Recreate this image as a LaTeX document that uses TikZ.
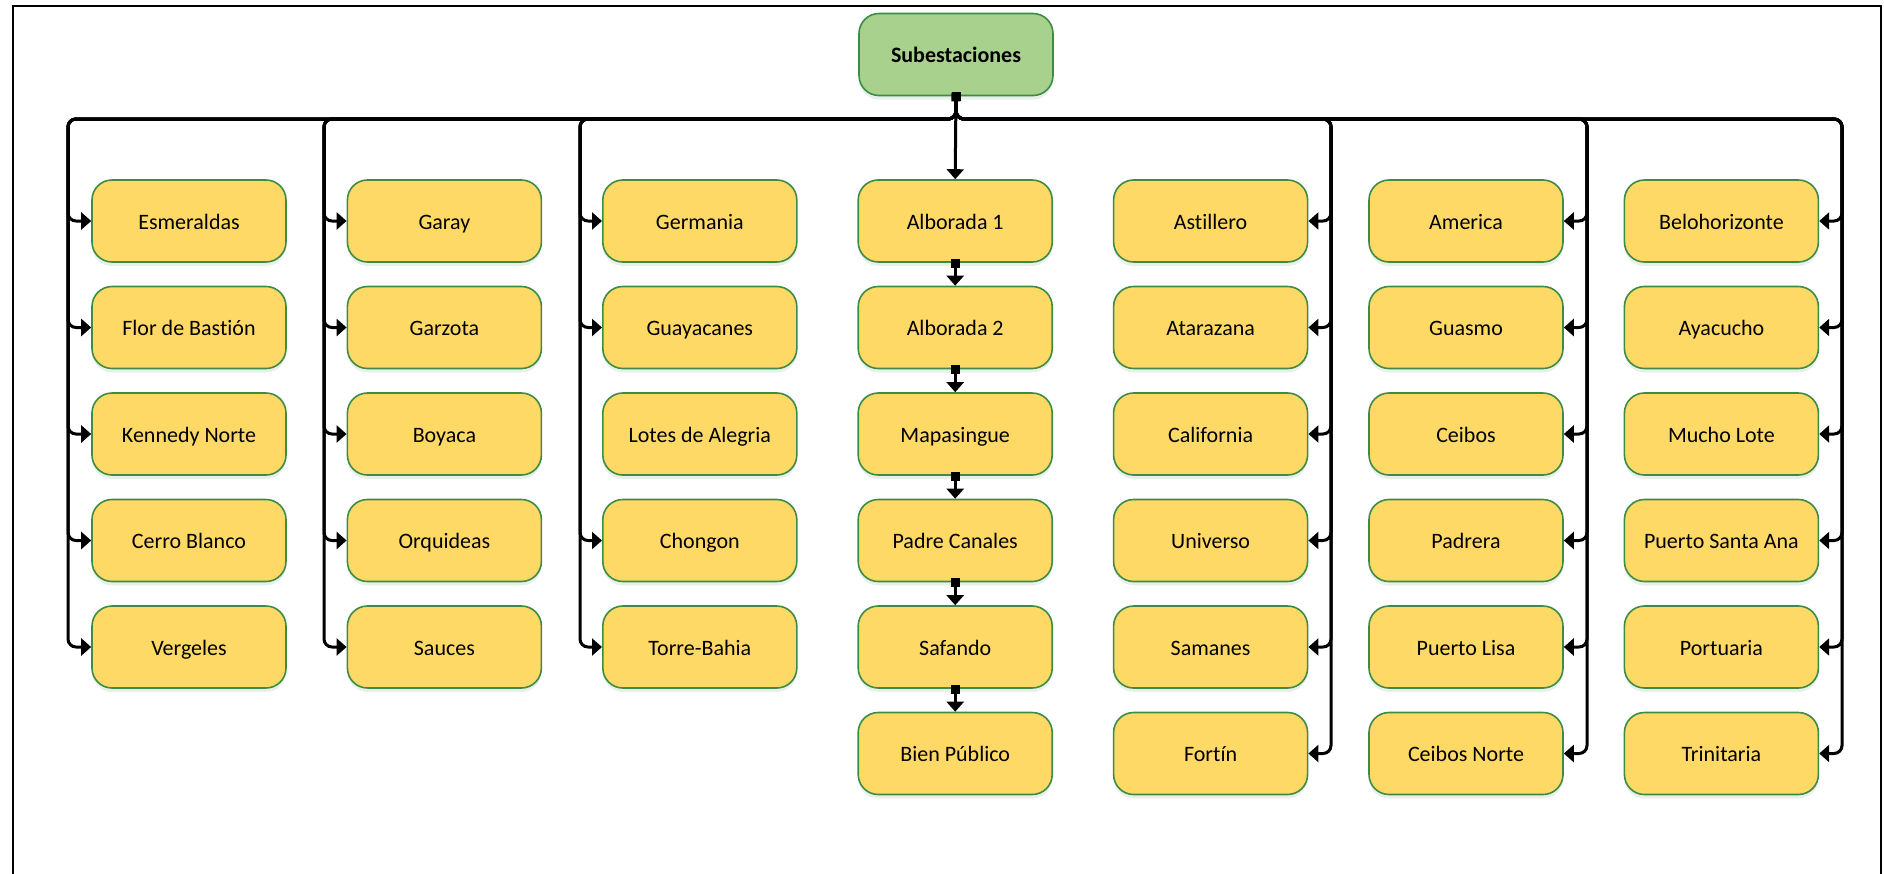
\documentclass[tikz,border=0pt]{standalone}
\usepackage{fontspec}
\setmainfont{Carlito}[Ligatures=NoCommon]
\usetikzlibrary{arrows.meta,shadows}
\definecolor{boxfill}{RGB}{255,217,102}
\definecolor{boxline}{RGB}{60,140,70}
\definecolor{topfill}{RGB}{169,209,142}
\tikzset{
  sbox/.style={draw=boxline, line width=1.6pt, fill=boxfill, rounded corners=20pt,
    minimum width=194pt, minimum height=82pt, inner sep=0pt,
    text height=18pt, text depth=2pt,
    font=\fontsize{22}{25}\selectfont,
    general shadow={shadow xshift=0pt, shadow yshift=-4pt, fill=boxline, opacity=0.12}},
  topbox/.style={sbox, fill=topfill, font=\fontsize{22}{25}\selectfont\bfseries},
  sconn/.style={line width=3pt, rounded corners=8pt,
    {Square[length=9pt,width=9pt]}-{Triangle[length=10pt,width=17pt]}},
  frame/.style={line width=2.5pt}
}
\begin{document}
\begin{tikzpicture}[x=1pt,y=-1pt]
\useasboundingbox (0,0) rectangle (1884,873);
\draw[frame] (13,890) -- (13,6) -- (1881,6) -- (1881,890);
\node[topbox] (top) at (956,54.5) {Subestaciones};
\coordinate (ts) at ([yshift=4pt]top.south);
% columns
\foreach \c/\names in {1/{Esmeraldas,Flor de Bastión,Kennedy Norte,Cerro Blanco,Vergeles},
  2/{Garay,Garzota,Boyaca,Orquideas,Sauces},
  3/{Germania,Guayacanes,Lotes de Alegria,Chongon,Torre-Bahia},
  4/{Alborada 1,Alborada 2,Mapasingue,Padre Canales,Safando,Bien Público},
  5/{Astillero,Atarazana,California,Universo,Samanes,Fortín},
  6/{America,Guasmo,Ceibos,Padrera,Puerto Lisa,Ceibos Norte},
  7/{Belohorizonte,Ayacucho,Mucho Lote,Puerto Santa Ana,Portuaria,Trinitaria}}{
  \foreach \n [count=\r] in \names {
    \node[sbox] (c\c r\r) at ({189+255.4*(\c-1)},{221+106.5*(\r-1)}) {\n};
  }
}
% left columns
\foreach \c/\x in {1/68,2/324,3/580}{
  \coordinate (b\c) at (\x,119);
  \foreach \r in {1,...,5}{
    \ifnum\c=3 \ifnum\r=3 \else
      \draw[sconn] (ts) |- (b\c) |- (c\c r\r.west);
    \fi\else
      \draw[sconn] (ts) |- (b\c) |- (c\c r\r.west);
    \fi
  }
}
% right columns
\foreach \c/\x in {5/1331,6/1587,7/1842}{
  \coordinate (b\c) at (\x,119);
  \foreach \r in {1,...,6}{
    \draw[sconn] (ts) |- (b\c) |- (c\c r\r.east);
  }
}
% centre chain
\draw[sconn] (ts) -- (c4r1.north);
\foreach \r [evaluate=\r as \s using int(\r+1)] in {1,...,5}{
  \draw[sconn] ([yshift=4pt]c4r\r.south) -- (c4r\s.north);
}
\end{tikzpicture}
\end{document}
